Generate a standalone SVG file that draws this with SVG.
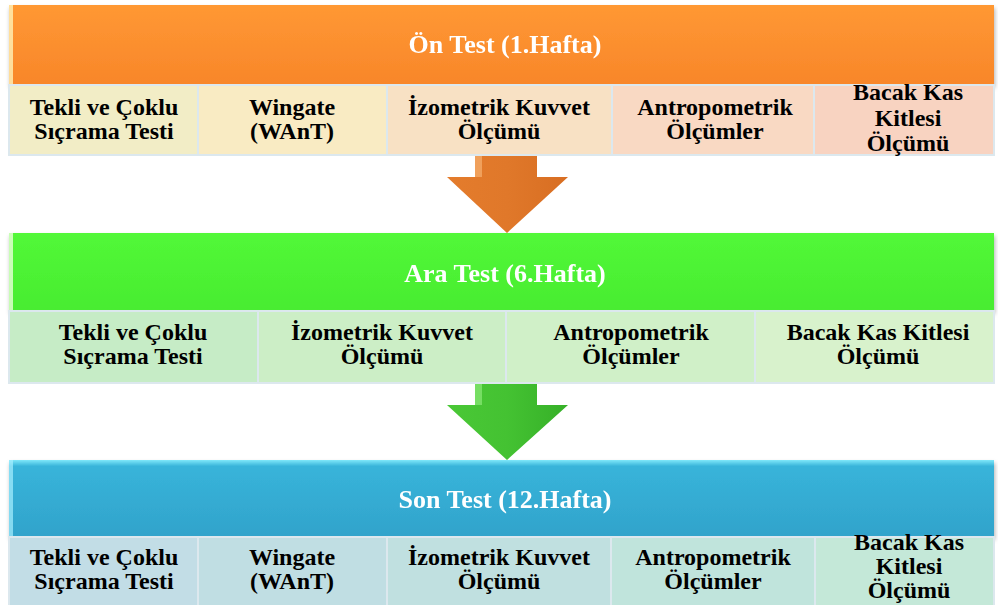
<svg xmlns="http://www.w3.org/2000/svg" width="998" height="605" viewBox="0 0 998 605">
<defs>
<linearGradient id="gO" x1="0" y1="0" x2="0" y2="1"><stop offset="0" stop-color="#FF9833"/><stop offset="1" stop-color="#F8862A"/></linearGradient>
<linearGradient id="gG" x1="0" y1="0" x2="0" y2="1"><stop offset="0" stop-color="#52F838"/><stop offset="1" stop-color="#48EC30"/></linearGradient>
<linearGradient id="gB" x1="0" y1="0" x2="0" y2="1"><stop offset="0" stop-color="#7FE8FA"/><stop offset="0.08" stop-color="#38B4DA"/><stop offset="1" stop-color="#31A3CB"/></linearGradient>
<linearGradient id="aO" x1="0" y1="0" x2="1" y2="0"><stop offset="0" stop-color="#E47C2C"/><stop offset="0.5" stop-color="#E0782A"/><stop offset="1" stop-color="#D86E22"/></linearGradient>
<linearGradient id="aG" x1="0" y1="0" x2="1" y2="0"><stop offset="0" stop-color="#4AC836"/><stop offset="0.5" stop-color="#44C232"/><stop offset="1" stop-color="#36B028"/></linearGradient>
<filter id="sh" x="-5%" y="-10%" width="110%" height="130%"><feDropShadow dx="1" dy="3" stdDeviation="2" flood-color="#000" flood-opacity="0.3"/></filter>
</defs>
<style>
.title{font-family:"Liberation Serif","Times New Roman",serif;font-weight:bold;font-size:26px;fill:#fff;text-anchor:middle}
.cell{font-family:"Liberation Serif","Times New Roman",serif;font-weight:bold;font-size:24px;fill:#000;text-anchor:middle}
.cb{stroke:#DCE8EE;stroke-width:2}
</style>

<g id="connectors">
<path d="M475 155 H537 V177 H568 L507 233 L447 177 H475 Z" fill="url(#aO)"/>
<path d="M475 155 H482 V177 H475 Z" fill="#F6B070" opacity="0.7"/>
<path d="M475 383 H537 V405 H568 L507 460 L447 405 H475 Z" fill="url(#aG)"/>
<path d="M475 383 H482 V405 H475 Z" fill="#8AE878" opacity="0.7"/>
</g>

<g id="stage1" filter="url(#sh)">
<rect x="9" y="5" width="985" height="80" fill="url(#gO)"/>
<rect x="9" y="5" width="4" height="80" fill="#FFF2B8" opacity="0.8"/>
<text class="title" x="505" y="53">Ön Test (1.Hafta)</text>
</g>
<g id="s1c1"><rect class="cb" x="9" y="85" width="189" height="70" fill="#F2EDC6"/><text class="cell" x="104" y="115">Tekli ve Çoklu</text><text class="cell" x="104" y="139">Sıçrama Testi</text></g>
<g id="s1c2"><rect class="cb" x="198" y="85" width="189" height="70" fill="#F9EBC3"/><text class="cell" x="292" y="115">Wingate</text><text class="cell" x="292" y="139">(WAnT)</text></g>
<g id="s1c3"><rect class="cb" x="387" y="85" width="225" height="70" fill="#F8E1C4"/><text class="cell" x="499" y="115">İzometrik Kuvvet</text><text class="cell" x="499" y="139">Ölçümü</text></g>
<g id="s1c4"><rect class="cb" x="612" y="85" width="202" height="70" fill="#F9D9C3"/><text class="cell" x="715" y="115">Antropometrik</text><text class="cell" x="715" y="139">Ölçümler</text></g>
<g id="s1c5"><rect class="cb" x="814" y="85" width="180" height="70" fill="#F8D3C1"/><text class="cell" x="908" y="100">Bacak Kas</text><text class="cell" x="908" y="126">Kitlesi</text><text class="cell" x="908" y="151">Ölçümü</text></g>

<g id="stage2" filter="url(#sh)">
<rect x="9" y="233" width="985" height="78" fill="url(#gG)"/>
<rect x="9" y="233" width="4" height="78" fill="#E8FFD8" opacity="0.8"/>
<text class="title" x="505" y="282">Ara Test (6.Hafta)</text>
</g>
<g id="s2c1"><rect class="cb" x="9" y="311" width="249" height="72" fill="#C6ECC6"/><text class="cell" x="133" y="340">Tekli ve Çoklu</text><text class="cell" x="133" y="364">Sıçrama Testi</text></g>
<g id="s2c2"><rect class="cb" x="258" y="311" width="248" height="72" fill="#CCEEC6"/><text class="cell" x="382" y="340">İzometrik Kuvvet</text><text class="cell" x="382" y="364">Ölçümü</text></g>
<g id="s2c3"><rect class="cb" x="506" y="311" width="249" height="72" fill="#D0F0C8"/><text class="cell" x="631" y="340">Antropometrik</text><text class="cell" x="631" y="364">Ölçümler</text></g>
<g id="s2c4"><rect class="cb" x="755" y="311" width="239" height="72" fill="#D8F2CC"/><text class="cell" x="878" y="340">Bacak Kas Kitlesi</text><text class="cell" x="878" y="364">Ölçümü</text></g>

<g id="stage3" filter="url(#sh)">
<rect x="9" y="460" width="985" height="77" fill="url(#gB)"/>
<rect x="9" y="460" width="4" height="77" fill="#A8F0FF" opacity="0.7"/>
<text class="title" x="505" y="508">Son Test (12.Hafta)</text>
</g>
<g id="s3c1"><rect class="cb" x="9" y="537" width="189" height="70" fill="#C2DDE6"/><text class="cell" x="104" y="565">Tekli ve Çoklu</text><text class="cell" x="104" y="589">Sıçrama Testi</text></g>
<g id="s3c2"><rect class="cb" x="198" y="537" width="189" height="70" fill="#C0DEE3"/><text class="cell" x="292" y="565">Wingate</text><text class="cell" x="292" y="589">(WAnT)</text></g>
<g id="s3c3"><rect class="cb" x="387" y="537" width="224" height="70" fill="#C0E0E0"/><text class="cell" x="499" y="565">İzometrik Kuvvet</text><text class="cell" x="499" y="589">Ölçümü</text></g>
<g id="s3c4"><rect class="cb" x="611" y="537" width="204" height="70" fill="#C0E4DC"/><text class="cell" x="713" y="565">Antropometrik</text><text class="cell" x="713" y="589">Ölçümler</text></g>
<g id="s3c5"><rect class="cb" x="815" y="537" width="179" height="70" fill="#C4E8D8"/><text class="cell" x="909" y="550">Bacak Kas</text><text class="cell" x="909" y="574">Kitlesi</text><text class="cell" x="909" y="598">Ölçümü</text></g>
</svg>
